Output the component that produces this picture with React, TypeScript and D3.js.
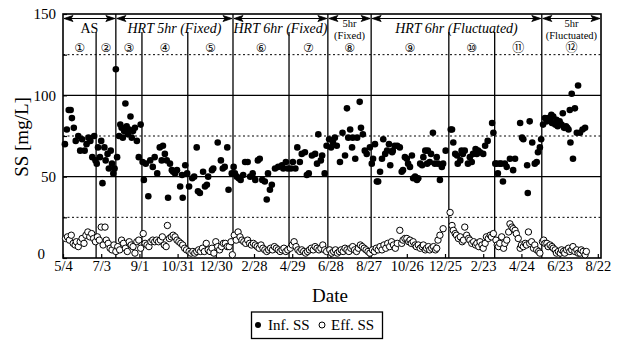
import * as d3 from 'd3'
import { useEffect, useRef } from 'react'

// days counted from 5/4 of the first year
const dateLabels = ['5/4', '7/3', '9/1', '10/31', '12/30', '2/28', '4/29', '6/28', '8/27', '10/26', '12/25', '2/23', '4/24', '6/23', '8/22']
const yLabels = [0, 50, 100, 150]
const phaseBounds = [0, 52, 83, 124, 196, 267, 355, 416, 484, 606, 678, 752, 845]
const phaseNames = ['①', '②', '③', '④', '⑤', '⑥', '⑦', '⑧', '⑨', '⑩', '⑪', '⑫']
const groupBounds = [0, 83, 267, 416, 484, 752, 845]
const groupNames = [['AS'], ['HRT 5hr (Fixed)'], ['HRT 6hr (Fixed)'], ['5hr', '(Fixed)'], ['HRT 6hr (Fluctuated)'], ['5hr', '(Fluctuated)']]

const infSS: [number, number][] = [
    [3, 70], [6, 79], [9, 91], [12, 91], [14, 86], [17, 80], [20, 72], [24, 75], [27, 66], [30, 73], [34, 66], [37, 70], [40, 74], [43, 72], [46, 62], [49, 75], [51, 60],
    [53, 58], [55, 68], [58, 62], [60, 72], [62, 46], [65, 68], [67, 60], [70, 64], [72, 55], [75, 66], [77, 58], [79, 52], [81, 55],
    [83, 116], [85, 62], [88, 75], [90, 82], [92, 80], [94, 74], [96, 78], [98, 95], [100, 81], [102, 76], [104, 79], [106, 87], [108, 74], [110, 78], [113, 80], [116, 72], [119, 62], [122, 82],
    [125, 59], [127, 48], [130, 58], [134, 38], [137, 60], [141, 56], [144, 62], [148, 52], [152, 68], [155, 60], [157, 69], [160, 64], [163, 60], [165, 37], [168, 58], [171, 54], [173, 53], [176, 52], [179, 54], [184, 44], [187, 51], [188, 37], [192, 57], [195, 52],
    [198, 44], [203, 49], [206, 50], [210, 68], [212, 41], [215, 40], [220, 53], [223, 44], [226, 45], [228, 50], [234, 54], [236, 55], [243, 71], [248, 60], [251, 55], [254, 56], [258, 68], [260, 42], [265, 52],
    [268, 56], [270, 52], [273, 50], [276, 49], [279, 48], [283, 51], [286, 59], [290, 59], [294, 50], [298, 52], [302, 48], [306, 60], [309, 61], [313, 48], [317, 47], [320, 36], [322, 52], [325, 42], [328, 45], [333, 55], [338, 56], [344, 57], [346, 55], [350, 59], [353, 55],
    [358, 55], [361, 59], [365, 55], [368, 68], [372, 59], [375, 64], [380, 65], [383, 51], [386, 52], [391, 63], [396, 64], [399, 58], [401, 76], [405, 60], [407, 63], [411, 52], [414, 69],
    [418, 73], [421, 68], [424, 71], [427, 74], [430, 69], [435, 59], [439, 77], [443, 63], [446, 92], [448, 74], [451, 79], [454, 68], [455, 74], [459, 61], [462, 74], [466, 96], [468, 80], [471, 76], [474, 66], [477, 64], [482, 68],
    [485, 58], [487, 61], [490, 70], [493, 47], [495, 47], [498, 53], [501, 61], [503, 73], [506, 64], [509, 66], [512, 70], [514, 57], [517, 65], [518, 66], [521, 69], [525, 69], [529, 68], [532, 53], [534, 54], [537, 62], [540, 61], [542, 58], [545, 56], [548, 63], [550, 49], [553, 50], [556, 48], [558, 49], [561, 58], [564, 57], [566, 62], [569, 66], [572, 58], [573, 66], [576, 59], [578, 64], [581, 77], [584, 58], [587, 62], [589, 58], [592, 48], [595, 56], [597, 58], [601, 66],
    [609, 79], [611, 79], [613, 71], [616, 64], [619, 63], [620, 58], [624, 60], [626, 66], [628, 64], [631, 66], [636, 58], [639, 62], [642, 59], [644, 64], [648, 67], [650, 64], [652, 66], [655, 65], [660, 64], [663, 69], [667, 72], [674, 83], [676, 77],
    [679, 58], [681, 58], [683, 52], [686, 58], [688, 58], [691, 47], [694, 58], [697, 56], [702, 61], [707, 54], [710, 61], [718, 83], [721, 74], [723, 73], [729, 57], [730, 40], [733, 84], [737, 71], [741, 58], [744, 59], [746, 65], [749, 68], [751, 73],
    [754, 82], [757, 86], [760, 84], [762, 86], [765, 85], [767, 88], [768, 83], [770, 87], [773, 82], [775, 85], [777, 81], [780, 84], [783, 82], [785, 89], [787, 80], [790, 81], [792, 80], [794, 79], [796, 91], [797, 71], [799, 101], [801, 61], [804, 92], [807, 77], [809, 106], [812, 77], [816, 79], [820, 80]
]

const effSS: [number, number][] = [
    [4, 12], [7, 13], [10, 11], [13, 14], [16, 9], [19, 8], [21, 10], [24, 7], [27, 10], [30, 12], [33, 9], [36, 14], [39, 16], [42, 13], [45, 15], [48, 12], [51, 10],
    [54, 13], [57, 11], [60, 19], [63, 8], [66, 19], [68, 11], [71, 9], [74, 6], [77, 5], [80, 8], [83, 4],
    [86, 7], [89, 5], [92, 11], [95, 9], [98, 6], [101, 4], [104, 10], [107, 8], [110, 7], [113, 3], [116, 10], [119, 11], [122, 6],
    [126, 15], [129, 9], [132, 8], [135, 7], [138, 10], [141, 11], [144, 10], [147, 11], [150, 10], [153, 11], [156, 13], [159, 8], [162, 7], [164, 20], [167, 12], [170, 13], [173, 14], [176, 13], [179, 11], [182, 10], [185, 9], [188, 8], [191, 6], [194, 5],
    [198, 4], [201, 3], [204, 4], [207, 3], [210, 4], [213, 5], [216, 4], [219, 6], [222, 4], [225, 9], [228, 5], [231, 4], [234, 6], [237, 3], [240, 10], [243, 7], [246, 5], [249, 7], [252, 9], [255, 9], [258, 7], [261, 7], [264, 10], [266, 2],
    [269, 14], [272, 11], [275, 16], [278, 13], [281, 11], [284, 10], [287, 9], [290, 11], [293, 9], [296, 8], [299, 9], [302, 8], [305, 7], [308, 6], [311, 8], [314, 6], [317, 5], [320, 4], [323, 5], [326, 6], [329, 5], [332, 7], [335, 6], [338, 5], [341, 4], [344, 5], [347, 6], [350, 4], [353, 5],
    [357, 6], [360, 8], [363, 10], [366, 7], [369, 5], [372, 4], [375, 5], [378, 4], [381, 3], [384, 4], [387, 5], [390, 6], [393, 5], [396, 7], [399, 6], [402, 5], [405, 6], [408, 8], [411, 5], [414, 4],
    [419, 5], [422, 3], [425, 4], [428, 5], [431, 3], [434, 4], [437, 5], [440, 4], [443, 6], [446, 5], [449, 4], [452, 6], [455, 7], [458, 5], [461, 4], [464, 6], [467, 8], [470, 7], [473, 6], [476, 5], [479, 4], [482, 3],
    [486, 5], [489, 4], [492, 6], [495, 5], [498, 7], [501, 5], [504, 8], [507, 6], [510, 9], [513, 7], [516, 10], [519, 8], [522, 6], [525, 9], [529, 17], [532, 9], [534, 11], [537, 12], [540, 12], [543, 10], [545, 11], [547, 9], [550, 10], [553, 8], [555, 7], [558, 8], [561, 6], [564, 7], [566, 8], [569, 5], [571, 6], [574, 7], [576, 5], [579, 6], [582, 7], [585, 5], [587, 6], [589, 11], [592, 14], [597, 18],
    [608, 28], [611, 20], [613, 17], [616, 15], [618, 14], [621, 12], [624, 13], [627, 10], [629, 11], [631, 19], [634, 14], [637, 12], [639, 11], [642, 9], [645, 10], [648, 8], [650, 9], [653, 7], [655, 10], [658, 8], [660, 6], [663, 9], [665, 13], [668, 12], [671, 14], [673, 13], [676, 15],
    [680, 11], [682, 8], [684, 7], [686, 9], [689, 13], [692, 6], [694, 9], [697, 11], [700, 16], [702, 21], [705, 19], [707, 18], [710, 17], [712, 15], [715, 12], [718, 6], [720, 8], [723, 7], [726, 9], [728, 8], [731, 16], [733, 9], [736, 10], [739, 6], [741, 8], [744, 5], [747, 4], [749, 3],
    [753, 10], [755, 11], [757, 9], [760, 9], [762, 7], [765, 8], [768, 7], [770, 6], [773, 5], [775, 3], [778, 4], [781, 3], [783, 5], [786, 4], [788, 3], [791, 5], [794, 6], [796, 4], [799, 5], [801, 7], [804, 4], [807, 5], [809, 3], [812, 3], [814, 5], [817, 4], [820, 2], [822, 4]
]

const serif = '"Liberation Serif", "Times New Roman", serif'

export default function App() {
    const svgRef = useRef<SVGSVGElement>(null)

    useEffect(() => {
        makeChart(svgRef)
    }, [])

    function makeChart(svgRef: React.RefObject<SVGSVGElement>) {
        const width = 618
        const height = 340
        const left = 63
        const right = 601
        const top = 14
        const bottom = 258

        const svg = d3.select(svgRef.current).attr('width', width).attr('height', height)
        svg.selectAll('*').remove()

        const xScale = d3.scaleLinear().domain([0, 845]).range([left, right])
        const yScale = d3.scaleLinear().domain([0, 150]).range([bottom, top])

        // grid
        const grid = svg.append('g')
        grid.selectAll('line.dot')
            .data([25, 75, 125])
            .enter()
            .append('line')
            .attr('x1', left).attr('x2', right)
            .attr('y1', d => yScale(d)).attr('y2', d => yScale(d))
            .attr('stroke', '#000').attr('stroke-width', 1).attr('stroke-dasharray', '2,2.5')
        grid.selectAll('line.solid')
            .data([50, 100])
            .enter()
            .append('line')
            .attr('x1', left).attr('x2', right)
            .attr('y1', d => yScale(d)).attr('y2', d => yScale(d))
            .attr('stroke', '#000').attr('stroke-width', 1.3)

        // phase boundaries
        const inner = phaseBounds.slice(1, -1)
        grid.selectAll('line.phase')
            .data(inner)
            .enter()
            .append('line')
            .attr('x1', d => xScale(d)).attr('x2', d => xScale(d))
            .attr('y1', d => groupBounds.includes(d) ? top : yScale(139))
            .attr('y2', bottom)
            .attr('stroke', '#000').attr('stroke-width', 1.3)

        // header arrows
        const ay = 18.5
        const header = svg.append('g')
        groupNames.forEach((names, i) => {
            const x0 = xScale(groupBounds[i]) + 1
            const x1 = xScale(groupBounds[i + 1]) - 1
            header.append('line').attr('x1', x0).attr('x2', x1).attr('y1', ay).attr('y2', ay).attr('stroke', '#000').attr('stroke-width', 1.2)
            header.append('path').attr('d', `M${x0},${ay} L${x0 + 9},${ay - 3} L${x0 + 7},${ay} L${x0 + 9},${ay + 3} Z`).attr('fill', '#000').attr('stroke', '#000').attr('stroke-width', 0.8)
            header.append('path').attr('d', `M${x1},${ay} L${x1 - 9},${ay - 3} L${x1 - 7},${ay} L${x1 - 9},${ay + 3} Z`).attr('fill', '#000').attr('stroke', '#000').attr('stroke-width', 0.8)
            const cx = (x0 + x1) / 2
            const italic = names[0].startsWith('HRT')
            names.forEach((t, j) => {
                header.append('text')
                    .attr('x', cx)
                    .attr('y', names.length === 1 ? 33 : 26.8 + j * 11.7)
                    .attr('text-anchor', 'middle')
                    .attr('font-family', serif)
                    .attr('font-size', names.length === 1 ? 14 : 10.5)
                    .attr('font-style', italic ? 'italic' : 'normal')
                    .text(t)
            })
        })

        header.selectAll('text.phase')
            .data(phaseNames)
            .enter()
            .append('text')
            .attr('x', (d, i) => (xScale(phaseBounds[i]) + xScale(phaseBounds[i + 1])) / 2)
            .attr('y', 51.5)
            .attr('text-anchor', 'middle')
            .attr('font-family', '"DejaVu Sans", "Noto Sans CJK JP", sans-serif')
            .attr('font-size', 12)
            .text(d => d)

        // axes
        const bottomAxis = d3.axisBottom(xScale)
            .tickValues(d3.range(0, 841, 60))
            .tickFormat((d, i) => dateLabels[i])
            .tickSizeInner(-4).tickSizeOuter(0).tickPadding(3)
        const gx = svg.append('g').attr('transform', `translate(0, ${bottom})`).call(bottomAxis)
        gx.select('.domain').remove()
        gx.selectAll('text').attr('font-family', serif).attr('font-size', 14.5).attr('fill', '#000')
        gx.selectAll('line').attr('stroke-width', 1.2)

        const leftAxis = d3.axisLeft(yScale)
            .tickValues(d3.range(0, 151, 25))
            .tickFormat(d => yLabels.includes(+d) ? String(d) : '')
            .tickSizeInner(-4).tickSizeOuter(0).tickPadding(7)
        const gy = svg.append('g').attr('transform', `translate(${left}, 0)`).call(leftAxis)
        gy.select('.domain').remove()
        gy.selectAll('text').attr('font-family', serif).attr('font-size', 15).attr('fill', '#000')
        gy.selectAll<SVGTextElement, number>('text').filter(d => d === 0).attr('dx', -11).attr('dy', '0.05em')
        gy.selectAll('line').attr('stroke-width', 1.2)

        // frame
        svg.append('rect')
            .attr('x', left).attr('y', top).attr('width', right - left).attr('height', bottom - top)
            .attr('fill', 'none').attr('stroke', '#000').attr('stroke-width', 1.6)

        // points
        const pts = svg.append('g')
        pts.selectAll('circle.eff')
            .data(effSS)
            .enter()
            .append('circle')
            .attr('cx', d => xScale(d[0])).attr('cy', d => yScale(d[1])).attr('r', 3.2)
            .attr('fill', '#fff').attr('stroke', '#000').attr('stroke-width', 1)
        pts.selectAll('circle.inf')
            .data(infSS)
            .enter()
            .append('circle')
            .attr('cx', d => xScale(d[0])).attr('cy', d => yScale(d[1])).attr('r', 3.3)
            .attr('fill', '#000')

        // titles
        svg.append('text')
            .attr('x', 330).attr('y', 302)
            .attr('text-anchor', 'middle')
            .attr('font-family', serif).attr('font-size', 19)
            .text('Date')
        svg.append('text')
            .attr('transform', 'translate(28, 137) rotate(-90)')
            .attr('text-anchor', 'middle')
            .attr('font-family', serif).attr('font-size', 19)
            .text('SS [mg/L]')

        // legend
        const lg = svg.append('g')
        lg.append('rect').attr('x', 251.5).attr('y', 312).attr('width', 131).attr('height', 26.5)
            .attr('fill', '#fff').attr('stroke', '#000').attr('stroke-width', 1.3)
        lg.append('circle').attr('cx', 258).attr('cy', 325).attr('r', 3).attr('fill', '#000')
        lg.append('text').attr('x', 268).attr('y', 330).attr('font-family', serif).attr('font-size', 15).text('Inf. SS')
        lg.append('circle').attr('cx', 322).attr('cy', 325).attr('r', 3).attr('fill', '#fff').attr('stroke', '#000')
        lg.append('text').attr('x', 331).attr('y', 330).attr('font-family', serif).attr('font-size', 15).text('Eff. SS')
    }

    return (
        <svg ref={svgRef} style={{ position: 'absolute', left: 0, top: 0 }}></svg>
    )
}
